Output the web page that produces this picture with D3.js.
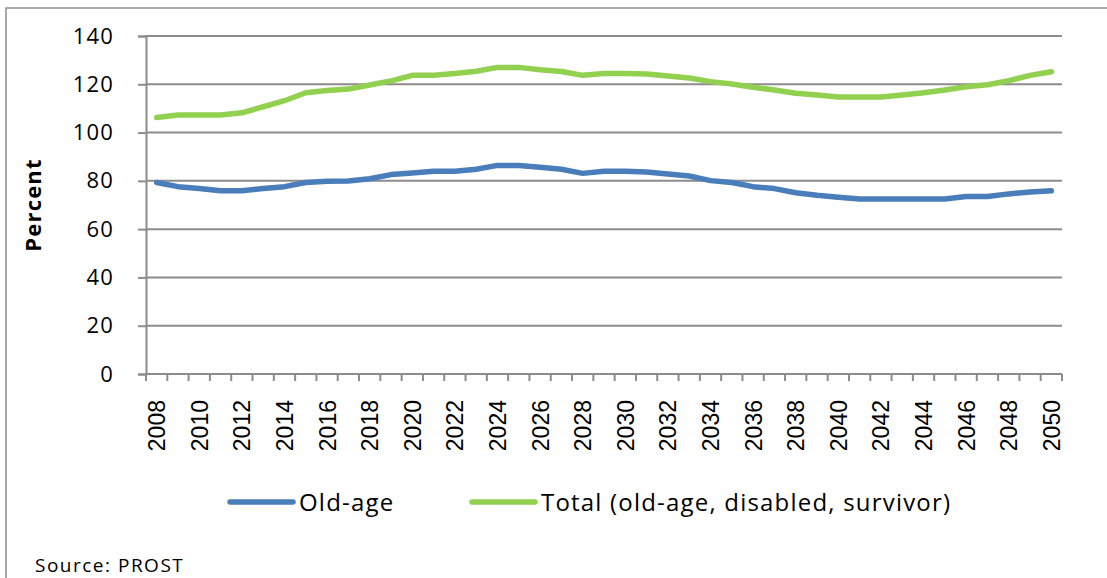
<!DOCTYPE html>
<html>
<head>
<meta charset="utf-8">
<script src="https://cdn.jsdelivr.net/npm/d3@7"></script>
<style>
  body { margin: 0; background: #fff; }
  svg { display: block; }
</style>
</head>
<body>
<div id="chart"></div>
<script>
// years on the category axis
const years = d3.range(2008, 2051);
const tickYears = years.filter(y => y % 2 === 0);
const yTicks = [0, 20, 40, 60, 80, 100, 120, 140];

// series values (percent)
const oldAge = [79.3, 77.6, 76.8, 75.9, 75.9, 76.8, 77.6, 79.3, 79.8, 79.9,
                80.9, 82.6, 83.3, 84.0, 84.0, 84.8, 86.4, 86.4, 85.6, 84.8,
                83.1, 84.0, 84.0, 83.7, 82.8, 82.0, 80.1, 79.3, 77.6, 76.8,
                75.1, 74.0, 73.2, 72.5, 72.5, 72.5, 72.5, 72.5, 73.5, 73.5,
                74.6, 75.4, 75.9];
const total = [106.2, 107.3, 107.3, 107.3, 108.2, 110.7, 113.2, 116.5, 117.4, 118.0,
               119.7, 121.4, 123.7, 123.7, 124.5, 125.4, 127.0, 127.0, 126.0, 125.3,
               123.7, 124.5, 124.5, 124.3, 123.4, 122.6, 121.1, 120.1, 118.8, 117.6,
               116.3, 115.6, 114.7, 114.7, 114.7, 115.6, 116.5, 117.6, 119.0, 119.8,
               121.5, 123.7, 125.2];

const seriesNames = ["Old-age", "Total (old-age, disabled, survivor)"];
const seriesColors = ["#4a7ebb", "#92d050"];

(function() {
  "use strict";
  const width = 1107, height = 578;
  const plotL = 146, plotR = 1062, plotT = 36, plotB = 374;
  const font = "Open Sans, sans-serif";

  const svg = d3.select("#chart").append("svg")
      .attr("width", width).attr("height", height);

  // outer frame
  svg.append("path")
     .attr("d", `M6,${height} L6,8 L${width},8`)
     .attr("fill", "none").attr("stroke", "#8c8c8c").attr("stroke-width", 1.5);

  const x = d3.scaleBand().domain(years).range([plotL, plotR]);
  const y = d3.scaleLinear().domain([0, 140]).range([plotB, plotT]);

  // gridlines
  svg.append("g").selectAll("line")
     .data(yTicks.filter(d => d > 0))
     .enter().append("line")
     .attr("x1", plotL).attr("x2", plotR)
     .attr("y1", d => y(d)).attr("y2", d => y(d))
     .attr("stroke", "#8c8c8c").attr("stroke-width", 2);

  // y axis
  const yAxis = svg.append("g")
     .attr("transform", `translate(${plotL},0)`)
     .call(d3.axisLeft(y).tickValues(yTicks).tickSize(8).tickPadding(24));
  yAxis.select(".domain").attr("stroke", "#8c8c8c").attr("stroke-width", 2);
  yAxis.selectAll(".tick line").attr("stroke", "#8c8c8c").attr("stroke-width", 2);
  yAxis.selectAll("text")
     .attr("font-family", font).attr("font-size", 22)
     .attr("letter-spacing", 1.2).attr("fill", "#000");

  // x axis: ticks at band edges, labels at band centres
  const xg = svg.append("g").attr("transform", `translate(0,${plotB})`);
  xg.append("line").attr("x1", plotL).attr("x2", plotR)
     .attr("stroke", "#8c8c8c").attr("stroke-width", 2);
  xg.selectAll(".tk").data(years.concat([2051]))
     .enter().append("line").attr("class", "tk")
     .attr("x1", d => d === 2051 ? plotR : x(d)).attr("x2", d => d === 2051 ? plotR : x(d))
     .attr("y1", 0).attr("y2", 7)
     .attr("stroke", "#8c8c8c").attr("stroke-width", 2);
  xg.selectAll(".lbl").data(tickYears)
     .enter().append("text").attr("class", "lbl")
     .attr("transform", d => `translate(${x(d) + x.bandwidth() / 2 + 8.5},26) rotate(-90)`)
     .attr("text-anchor", "end")
     .attr("font-family", "Liberation Sans, Arial, sans-serif").attr("font-size", 23)
     .attr("fill", "#000")
     .text(d => d);

  // y title
  svg.append("text")
     .attr("transform", `translate(41,205) rotate(-90)`)
     .attr("text-anchor", "middle")
     .attr("font-family", font).attr("font-weight", "bold")
     .attr("font-size", 22).attr("letter-spacing", 1.2).attr("fill", "#000")
     .text("Percent");

  // lines
  const line = d3.line()
     .x((d, i) => x(years[i]) + x.bandwidth() / 2)
     .y(d => y(d));

  [oldAge, total].forEach((s, i) => {
    svg.append("path").datum(s)
       .attr("d", line)
       .attr("fill", "none")
       .attr("stroke", seriesColors[i])
       .attr("stroke-width", 5.5)
       .attr("stroke-linejoin", "round")
       .attr("stroke-linecap", "round");
  });

  // legend
  const legendX = [230, 472];
  seriesNames.forEach((n, i) => {
    const g = svg.append("g").attr("transform", `translate(${legendX[i]},502)`);
    g.append("line").attr("x1", 0).attr("x2", 63)
     .attr("stroke", seriesColors[i]).attr("stroke-width", 5.5).attr("stroke-linecap", "round");
    g.append("text").attr("x", 69).attr("y", 9)
     .attr("font-family", font).attr("font-size", 24).attr("letter-spacing", 1.2)
     .attr("fill", "#000")
     .text(n);
  });

  // source note
  svg.append("text").attr("x", 35).attr("y", 572)
     .attr("font-family", font).attr("font-size", 19).attr("letter-spacing", 1.5)
     .attr("fill", "#000")
     .text("Source: PROST");
})();
</script>
</body>
</html>
